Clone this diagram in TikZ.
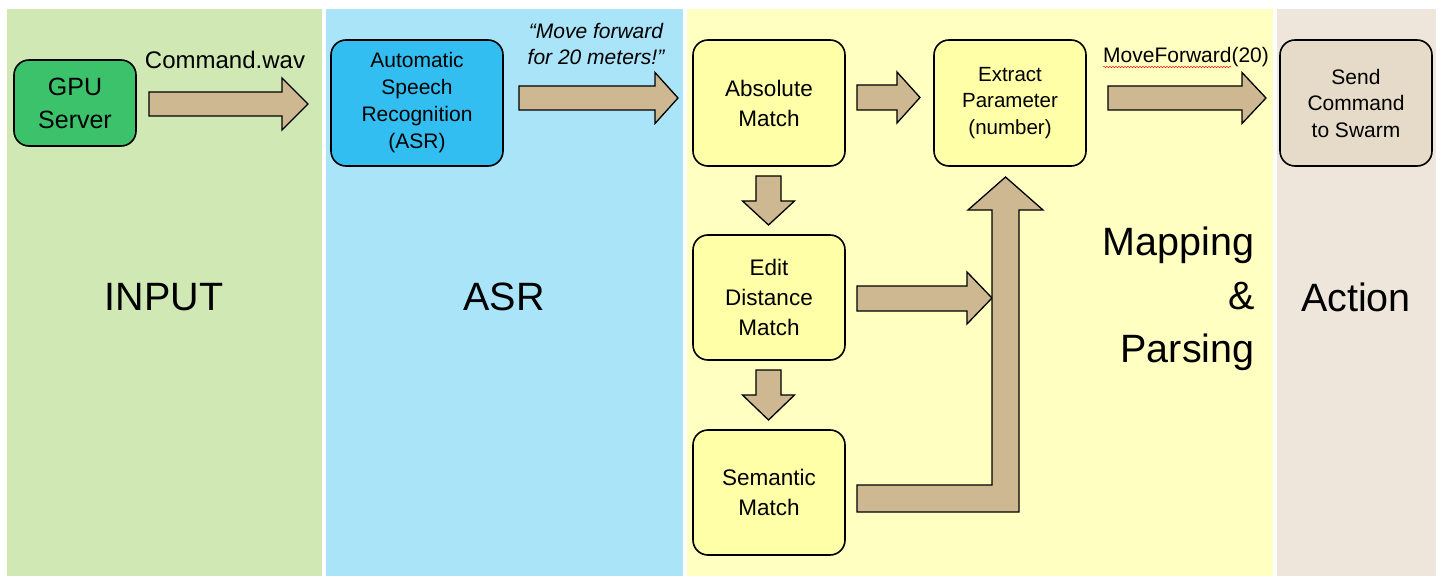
\documentclass[tikz,border=0pt]{standalone}
\usepackage{fontspec}
\setmainfont{Liberation Sans}
\usetikzlibrary{decorations.pathmorphing}
\definecolor{pgreen}{HTML}{D0E8B3}
\definecolor{pblue}{HTML}{AAE4F8}
\definecolor{pyellow}{HTML}{FFFFC1}
\definecolor{pbeige}{HTML}{EEE6DA}
\definecolor{ngreen}{HTML}{3DC26C}
\definecolor{nblue}{HTML}{33BEF1}
\definecolor{nyellow}{HTML}{FFFFA8}
\definecolor{nbeige}{HTML}{E5DBC8}
\definecolor{arrowfill}{HTML}{CDB891}
\newcommand\fsz[2]{\fontsize{#1pt}{#2pt}\selectfont}
\begin{document}
\begin{tikzpicture}[x=1pt,y=-1pt,
  box/.style={draw=black, line width=1.6pt, rounded corners=15pt, align=center,
    inner sep=0pt, minimum width=152pt, minimum height=126pt},
  blockarrow/.style={draw=black, line width=1.3pt, fill=arrowfill, line join=miter},
  lane/.style={font=\fsz{39.5}{53.5}, align=center}
]
\useasboundingbox (0,0) rectangle (1444,583);
\fill[white] (0,0) rectangle (1444,583);
% lanes
\fill[pgreen] (7,9) rectangle (322,576);
\fill[pblue] (326,9) rectangle (683,576);
\fill[pyellow] (687,9) rectangle (1273,576);
\fill[pbeige] (1277,9) rectangle (1436,576);
\node[lane] (lin) at (164,297) {INPUT};
\node[lane] (lasr) at (504,297) {ASR};
\node[lane, align=right, anchor=east] (lmap) at (1258,299) {Mapping\\\&\\Parsing};
\node[lane] (lact) at (1356,297) {Action};
% nodes
\node[box, fill=ngreen, minimum width=122pt, minimum height=86pt, font=\fsz{25}{33}] (gpu) at (75,103) {GPU\\Server};
\node[box, fill=nblue, minimum width=172pt, font=\fsz{21}{27}] (asr) at (417,103) {Automatic\\Speech\\Recognition\\(ASR)};
\node[box, fill=nyellow, font=\fsz{22.5}{30}] (abs) at (769,103) {Absolute\\Match};
\node[box, fill=nyellow, font=\fsz{20.5}{26.5}] (ext) at (1010,103) {Extract\\Parameter\\(number)};
\node[box, fill=nbeige, font=\fsz{21}{26.5}] (send) at (1356,103) {Send\\Command\\to Swarm};
\node[box, fill=nyellow, minimum height=125pt, font=\fsz{22.5}{30}] (edit) at (769,297.5) {Edit\\Distance\\Match};
\node[box, fill=nyellow, minimum height=125pt, font=\fsz{22.5}{30}] (sem) at (769,492.5) {Semantic\\Match};
% labels
\node[font=\fsz{24}{30}] (lcmd) at (225,60) {Command.wav};
\node[font=\fsz{21}{26}\itshape, align=center] (lmove) at (596,44) {“Move forward\\for 20 meters!”};
\node[font=\fsz{21}{26}, anchor=west, inner sep=0pt] (lmf) at (1103,57) {MoveForward(20)};
\draw[red, line width=0.45pt, decorate, decoration={snake, segment length=3pt, amplitude=0.7pt}]
  (1103,67) -- (1231,67);
% block arrows (horizontal)
\draw[blockarrow] (149,92) -- (282,92) -- (282,78) -- (308,104) -- (282,130) -- (282,116) -- (149,116) -- cycle;
\draw[blockarrow] (519,86) -- (655,86) -- (655,72.5) -- (678,98) -- (655,123.5) -- (655,110) -- (519,110) -- cycle;
\draw[blockarrow] (857,85) -- (897,85) -- (897,72) -- (920,97.5) -- (897,123) -- (897,110) -- (857,110) -- cycle;
\draw[blockarrow] (1108,86) -- (1242,86) -- (1242,72.5) -- (1266,98) -- (1242,123.5) -- (1242,110) -- (1108,110) -- cycle;
\draw[blockarrow] (857,286) -- (967,286) -- (967,272) -- (992,298) -- (967,324) -- (967,311) -- (857,311) -- cycle;
% down arrows
\draw[blockarrow] (756,176) -- (781,176) -- (781,201) -- (794.5,201) -- (768.5,225) -- (742.5,201) -- (756,201) -- cycle;
\draw[blockarrow] (756,370) -- (781,370) -- (781,395) -- (794.5,395) -- (768.5,420) -- (742.5,395) -- (756,395) -- cycle;
% L arrow
\draw[blockarrow] (857,485) -- (992,485) -- (992,210) -- (968,210) -- (1005.5,177) -- (1043,210) -- (1019,210) -- (1019,512) -- (857,512) -- cycle;
\end{tikzpicture}
\end{document}
